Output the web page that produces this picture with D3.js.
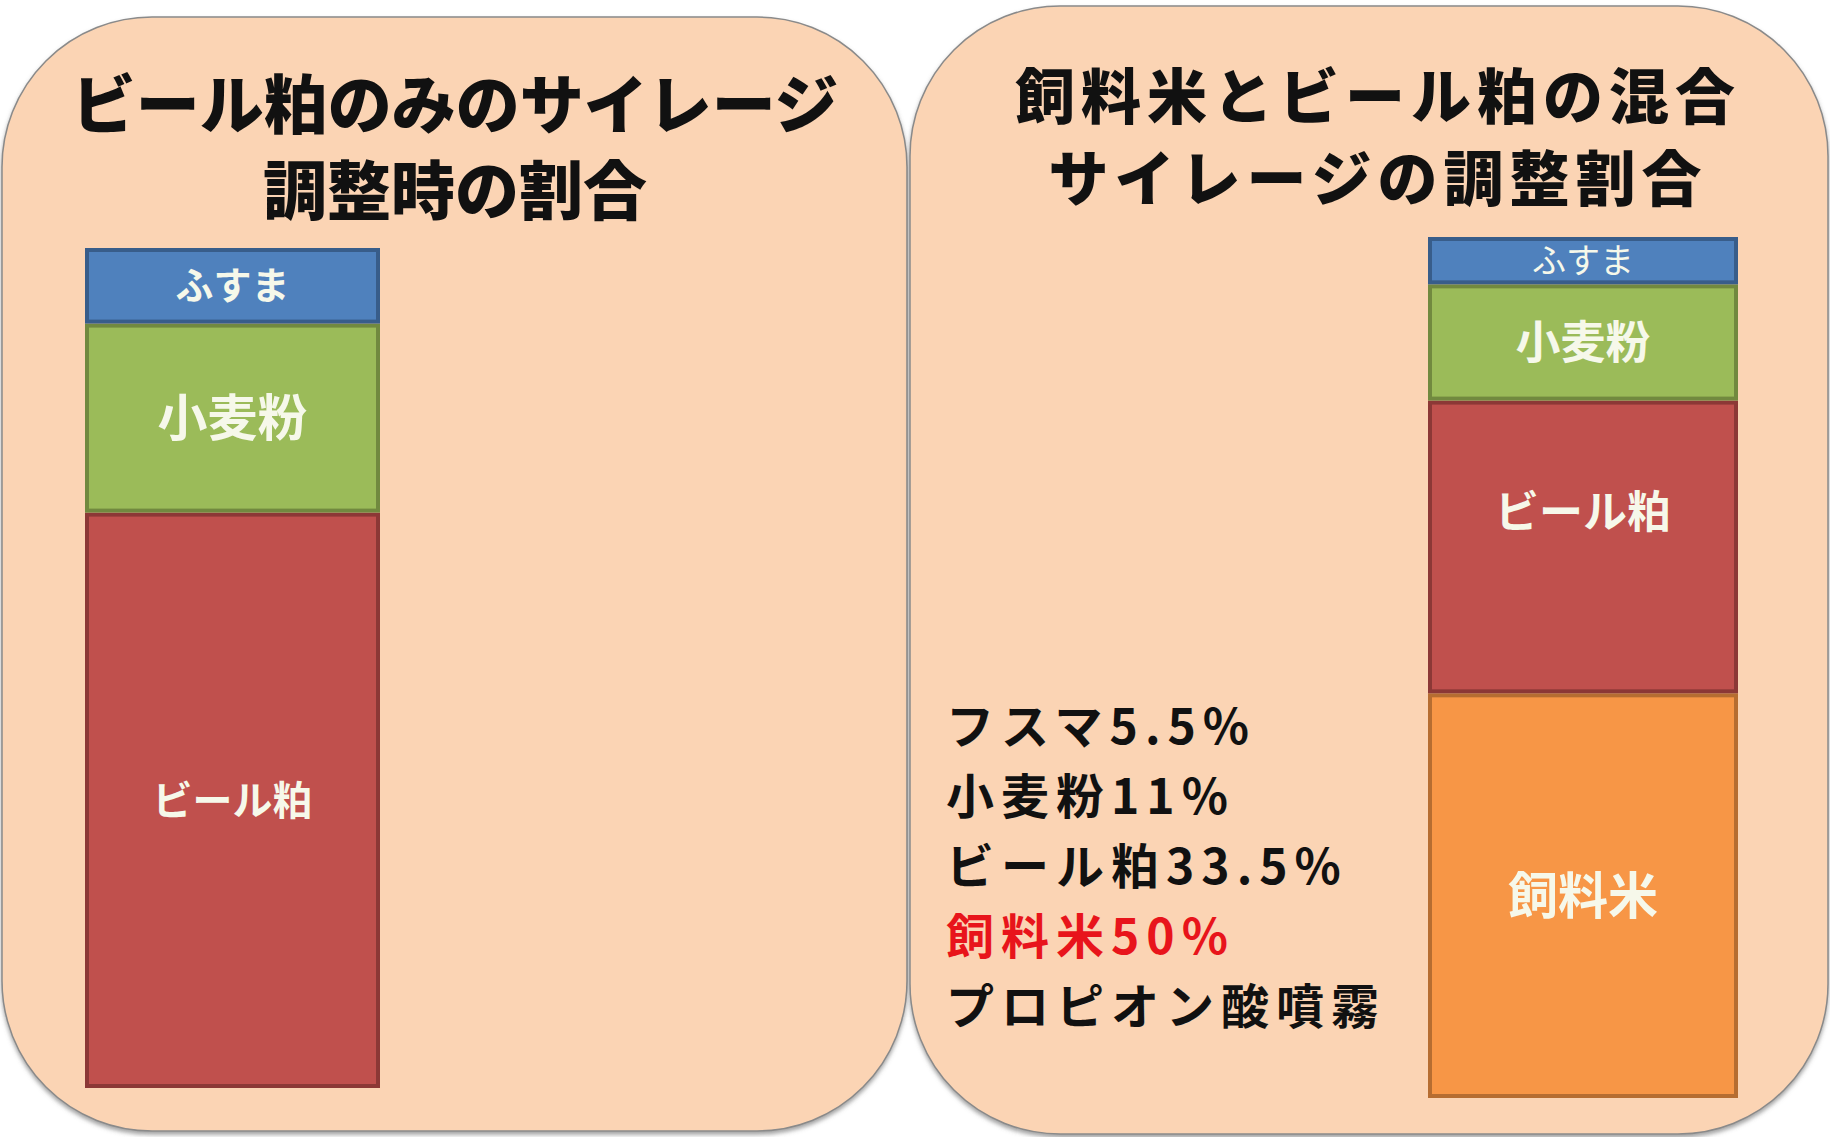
<!DOCTYPE html>
<html>
<head>
  <meta charset="utf-8"/>
  <title>サイレージ調整割合</title>
  <style type="text/css">
    body {
      margin:0;
      padding:0;
      background-color:white;
      font-family: "Noto Sans CJK JP", sans-serif;
    }
  </style>
  <script src="https://cdnjs.cloudflare.com/ajax/libs/d3/7.8.5/d3.min.js" charset="utf-8"></script>
</head>
<body>
<script type="text/javascript">

  // DATA
  var ingredients = ["ふすま", "小麦粉", "ビール粕", "飼料米"];
  var beerOnlyShare = [9, 22.5, 68.5, 0];      // ビール粕のみ
  var riceMixShare = [5.5, 13.5, 34, 47];      // 飼料米とビール粕の混合
  var titles = [
    ["ビール粕のみのサイレージ", "調整時の割合"],
    ["飼料米とビール粕の混合", "サイレージの調整割合"]
  ];
  var noteLines = ["フスマ5.5%", "小麦粉11%", "ビール粕33.5%", "飼料米50%", "プロピオン酸噴霧"];
  var noteHighlight = [false, false, false, true, false];

  var w = 1830, h = 1137;

  // COLORS
  var panelFill = "#fbd4b4",
      fills = {"ふすま": "#4f81bd", "小麦粉": "#9bbb59", "ビール粕": "#c0504d", "飼料米": "#f79646"},
      strokes = {"ふすま": "#385d8a", "小麦粉": "#71893f", "ビール粕": "#8c3836", "飼料米": "#b66d31"};

  var svg = d3.select("body").append("svg")
              .attr("width", w)
              .attr("height", h);

  var defs = svg.append("defs");
  var shadow = defs.append("filter").attr("id", "shadow")
                   .attr("x", "-5%").attr("y", "-5%").attr("width", "110%").attr("height", "110%");
  shadow.append("feDropShadow").attr("dx", 0).attr("dy", 3).attr("stdDeviation", 2)
        .attr("flood-color", "#666").attr("flood-opacity", 0.6);

  // panels: box [x, y, width, height], bar [x, y, width, height],
  // title [cx, y1, y2, font size, letter spacing]
  var panels = [
    {box: [2, 17, 905, 1114], bar: [85, 248, 295, 840], title: [455, 128, 214, 64, 0], share: beerOnlyShare},
    {box: [910, 6, 918, 1128], bar: [1428, 237, 310, 861], title: [1378, 119, 201, 60, 6], share: riceMixShare}
  ];

  panels.forEach(function(p, i) {
    var g = svg.append("g").attr("class", "panel panel-" + i);

    g.append("rect")
     .attr("x", p.box[0]).attr("y", p.box[1])
     .attr("width", p.box[2]).attr("height", p.box[3])
     .attr("rx", 150).attr("ry", 150)
     .style("fill", panelFill)
     .style("stroke", "#8a8a8a")
     .style("stroke-width", 1.5)
     .attr("filter", "url(#shadow)");

    // title, two lines
    titles[i].forEach(function(t, k) {
      g.append("text")
       .attr("x", p.title[0])
       .attr("y", k === 0 ? p.title[1] : p.title[2])
       .attr("text-anchor", "middle")
       .style("font-size", p.title[3] + "px")
       .style("letter-spacing", p.title[4] + "px")
       .style("font-weight", 900)
       .style("fill", "#111")
       .text(t);
    });

    // stacked bar
    var row = {};
    ingredients.forEach(function(name, j) { row[name] = p.share[j]; });
    var stacked = d3.stack().keys(ingredients.slice().reverse())([row]);

    var y = d3.scaleLinear().domain([0, 100]).range([p.bar[1] + p.bar[3], p.bar[1]]);
    var x = d3.scaleBand().domain([0]).range([p.bar[0], p.bar[0] + p.bar[2]]).padding(0);

    var seg = g.selectAll(".seg")
               .data(stacked.filter(function(s) { return s[0][1] - s[0][0] > 0; }))
               .enter().append("g").attr("class", "seg");

    seg.append("rect")
       .attr("x", x(0) + 2)
       .attr("width", x.bandwidth() - 4)
       .attr("y", function(s) { return y(s[0][1]) + 2; })
       .attr("height", function(s) { return y(s[0][0]) - y(s[0][1]) - 4; })
       .style("fill", function(s) { return fills[s.key]; })
       .style("stroke", function(s) { return strokes[s.key]; })
       .style("stroke-width", 4);

    seg.append("text")
       .attr("x", x(0) + x.bandwidth() / 2)
       .attr("y", function(s) {
         var mid = (y(s[0][0]) + y(s[0][1])) / 2;
         if (i === 1 && s.key === "ビール粕") mid -= 35;  // sits high in the reference
         return mid;
       })
       .attr("dy", "0.36em")
       .attr("text-anchor", "middle")
       .style("fill", "#f6f8ea")
       .style("font-weight", function(s) { return s.key === "ふすま" && i === 1 ? 400 : 700; })
       .style("font-size", function(s) {
         if (s.key === "ふすま") return i === 0 ? "38px" : "34px";
         if (s.key === "ビール粕") return i === 0 ? "40px" : "44px";
         return i === 0 ? "50px" : (s.key === "飼料米" ? "50px" : "45px");
       })
       .text(function(s) { return s.key; });
  });

  // notes in the right panel
  var notes = svg.append("g").attr("class", "notes");
  notes.selectAll("text")
       .data(noteLines)
       .enter().append("text")
       .attr("x", 946)
       .attr("y", function(d, k) { return 744 + k * 70; })
       .style("font-size", "48px")
       .style("letter-spacing", "7px")
       .style("font-weight", 700)
       .style("fill", function(d, k) { return noteHighlight[k] ? "#e8141b" : "#111"; })
       .text(function(d) { return d; });

</script>
</body>
</html>
